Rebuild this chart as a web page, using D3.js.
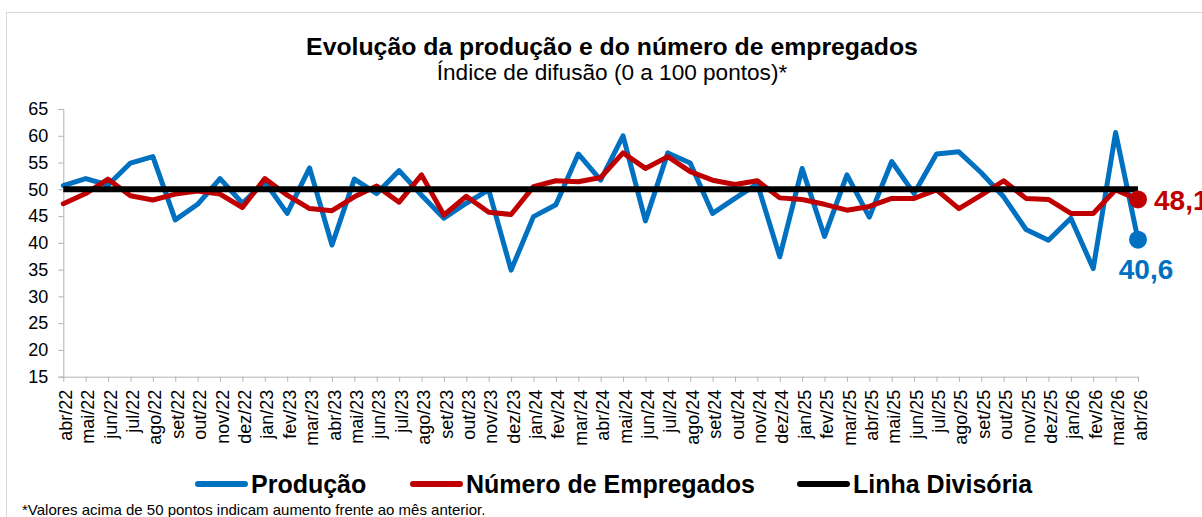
<!DOCTYPE html>
<html>
<head>
<meta charset="utf-8">
<script src="https://cdn.jsdelivr.net/npm/d3@7"></script>
<style>
  body { margin: 0; background: #fff; }
  svg { display: block; font-family: "Liberation Sans", Arial, sans-serif; }
</style>
</head>
<body>
<div id="chart"></div>
<script>
// data
const categories = ["abr/22","mai/22","jun/22","jul/22","ago/22","set/22","out/22","nov/22","dez/22",
  "jan/23","fev/23","mar/23","abr/23","mai/23","jun/23","jul/23","ago/23","set/23","out/23","nov/23","dez/23",
  "jan/24","fev/24","mar/24","abr/24","mai/24","jun/24","jul/24","ago/24","set/24","out/24","nov/24","dez/24",
  "jan/25","fev/25","mar/25","abr/25","mai/25","jun/25","jul/25","ago/25","set/25","out/25","nov/25","dez/25",
  "jan/26","fev/26","mar/26","abr/26"]

const producao = [50.7, 52.0, 50.8, 54.9, 56.1, 44.3, 47.2, 52.0, 47.4, 51.4, 45.5, 54.0, 39.6,
  51.9, 49.2, 53.5, 48.9, 44.6, 47.4, 49.9, 34.9, 44.9, 47.1, 56.6, 51.7, 60.0, 44.1, 56.8, 54.9,
  45.5, 48.3, 51.0, 37.4, 53.9, 41.2, 52.7, 44.8, 55.2, 49.2, 56.6, 57.0, 53.1, 48.6, 42.5, 40.5,
  44.6, 35.2, 60.6, 40.6]

const empregados = [47.3, 49.2, 51.9, 48.8, 48.0, 49.1, 49.7, 49.1, 46.6, 52.0, 48.9, 46.4, 46.0,
  48.6, 50.6, 47.6, 52.7, 45.2, 48.7, 45.7, 45.3, 50.5, 51.6, 51.4, 52.2, 56.8, 53.9, 56.1, 53.3,
  51.7, 50.9, 51.6, 48.4, 48.1, 47.2, 46.1, 46.8, 48.3, 48.3, 49.9, 46.4, 48.9, 51.6, 48.3, 48.1,
  45.5, 45.5, 49.9, 48.1]

const linhaDivisoria = 50
const yTicks = [15, 20, 25, 30, 35, 40, 45, 50, 55, 60, 65]
const seriesNames = ["Produção", "Número de Empregados", "Linha Divisória"]
const lastLabels = ["40,6", "48,1"]

const colors = { prod: "#0070C0", emp: "#C00000", linha: "#000000" }

function drawChart() {
  const dimensions = {
    width: 1202,
    height: 517,
    margin: { top: 109, right: 64, bottom: 140.3, left: 63.3 },
  }
  dimensions.boundedWidth = dimensions.width - dimensions.margin.left - dimensions.margin.right
  dimensions.boundedHeight = dimensions.height - dimensions.margin.top - dimensions.margin.bottom

  const wrapper = d3.select("#chart")
    .append("svg")
      .attr("width", dimensions.width)
      .attr("height", dimensions.height)

  // chart area border
  wrapper.append("rect")
    .attr("x", 6.5).attr("y", 12.5)
    .attr("width", 1300).attr("height", 600)
    .attr("fill", "none")
    .attr("stroke", "#d9d9d9")
    .attr("stroke-width", 1)

  // titles
  wrapper.append("text")
    .attr("x", 612).attr("y", 54.5)
    .attr("text-anchor", "middle")
    .style("font-size", "24.8px").style("font-weight", "bold")
    .text("Evolução da produção e do número de empregados")

  wrapper.append("text")
    .attr("x", 612).attr("y", 80)
    .attr("text-anchor", "middle")
    .style("font-size", "22.6px")
    .text("Índice de difusão (0 a 100 pontos)*")

  const bounds = wrapper.append("g")
    .attr("transform", `translate(${dimensions.margin.left},${dimensions.margin.top})`)

  // scales
  const xScale = d3.scalePoint()
    .domain(categories)
    .range([0, dimensions.boundedWidth])

  const yScale = d3.scaleLinear()
    .domain([15, 65])
    .range([dimensions.boundedHeight, 0])

  // axes
  const yAxisGenerator = d3.axisLeft(yScale)
    .tickValues(yTicks)
    .tickSizeInner(5)
    .tickSizeOuter(5)
    .tickPadding(10)

  const yAxis = bounds.append("g").call(yAxisGenerator)
  yAxis.selectAll("line, path").attr("stroke", "#b3b3b3")
  yAxis.selectAll("text")
    .style("font-size", "18px")
    .style("font-family", "Liberation Sans, Arial, sans-serif")
    .attr("fill", "#000")

  const xAxisGenerator = d3.axisBottom(xScale)
    .tickSizeInner(5)
    .tickSizeOuter(0)

  const xAxis = bounds.append("g")
    .attr("transform", `translate(0,${dimensions.boundedHeight})`)
    .call(xAxisGenerator)
  xAxis.selectAll("line, path").attr("stroke", "#b3b3b3")
  xAxis.selectAll("text")
    .style("font-size", "18px")
    .style("font-family", "Liberation Sans, Arial, sans-serif")
    .attr("fill", "#000")
    .attr("text-anchor", "end")
    .attr("transform", "rotate(-90)")
    .attr("x", -13)
    .attr("y", 0)
    .attr("dy", "0.45em")

  // lines
  const lineGen = values => d3.line()
    .x((d, i) => xScale(categories[i]))
    .y(d => yScale(d))(values)

  bounds.append("path")
    .attr("d", lineGen(producao))
    .attr("fill", "none")
    .attr("stroke", colors.prod)
    .attr("stroke-width", 5)
    .attr("stroke-linejoin", "round")
    .attr("stroke-linecap", "round")

  bounds.append("path")
    .attr("d", lineGen(empregados))
    .attr("fill", "none")
    .attr("stroke", colors.emp)
    .attr("stroke-width", 5)
    .attr("stroke-linejoin", "round")
    .attr("stroke-linecap", "round")

  bounds.append("path")
    .attr("d", lineGen(categories.map(() => linhaDivisoria)))
    .attr("fill", "none")
    .attr("stroke", colors.linha)
    .attr("stroke-width", 6)

  // end markers + labels
  const last = categories[categories.length - 1]
  const lastProd = producao[producao.length - 1]
  const lastEmp = empregados[empregados.length - 1]

  bounds.append("circle")
    .attr("cx", xScale(last)).attr("cy", yScale(lastProd))
    .attr("r", 9).attr("fill", colors.prod)
  bounds.append("circle")
    .attr("cx", xScale(last)).attr("cy", yScale(lastEmp))
    .attr("r", 9).attr("fill", colors.emp)

  bounds.append("text")
    .attr("x", xScale(last) + 8).attr("y", yScale(lastProd) + 39)
    .attr("text-anchor", "middle")
    .attr("fill", colors.prod)
    .style("font-size", "28px").style("font-weight", "bold")
    .text(lastLabels[0])

  bounds.append("text")
    .attr("x", xScale(last) + 16).attr("y", yScale(lastEmp) + 11)
    .attr("fill", colors.emp)
    .style("font-size", "28px").style("font-weight", "bold")
    .text(lastLabels[1])

  // legend
  const legendItems = [
    { name: seriesNames[0], color: colors.prod, x: 195, w: 6 },
    { name: seriesNames[1], color: colors.emp, x: 410, w: 6 },
    { name: seriesNames[2], color: colors.linha, x: 797, w: 6 },
  ]
  const legend = wrapper.append("g")
  const items = legend.selectAll("g").data(legendItems).enter().append("g")
    .attr("transform", d => `translate(${d.x},484)`)
  items.append("line")
    .attr("x1", 3).attr("x2", 50)
    .attr("stroke", d => d.color)
    .attr("stroke-width", d => d.w)
    .attr("stroke-linecap", "round")
  items.append("text")
    .attr("x", 56).attr("y", 9)
    .style("font-size", "25px").style("font-weight", "bold")
    .text(d => d.name)

  // footnote
  wrapper.append("text")
    .attr("x", 22).attr("y", 515)
    .style("font-size", "15px")
    .text("*Valores acima de 50 pontos indicam aumento frente ao mês anterior.")
}
drawChart()
</script>
</body>
</html>
